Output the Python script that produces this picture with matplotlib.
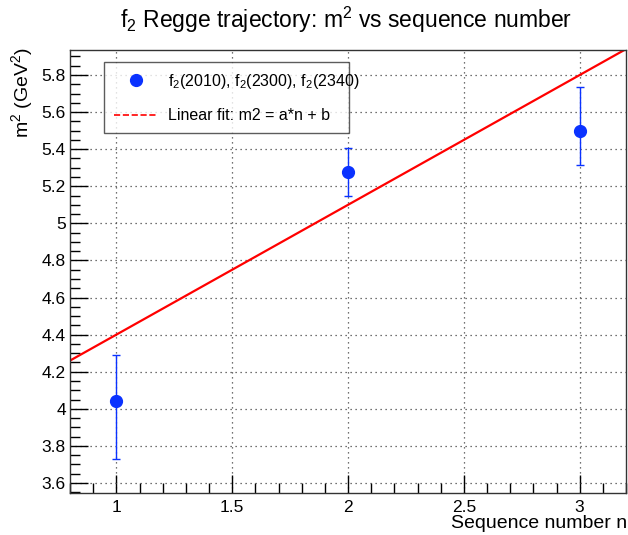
import numpy as np
import matplotlib.pyplot as plt
from matplotlib.lines import Line2D
from matplotlib.ticker import MultipleLocator, FormatStrFormatter

plt.rcParams['font.family'] = ['Liberation Sans', 'DejaVu Sans']
plt.rcParams['mathtext.fontset'] = 'custom'
plt.rcParams['mathtext.rm'] = 'Liberation Sans'
plt.rcParams['mathtext.it'] = 'Liberation Sans'
plt.rcParams['mathtext.default'] = 'regular'

# data: f2 states, m^2 in GeV^2 with asymmetric errors
n = [1, 2, 3]
m2 = [4.044, 5.276, 5.499]
err_lo = [0.315, 0.129, 0.186]
err_hi = [0.245, 0.129, 0.237]

# linear fit parameters m2 = a*n + b
a = 0.70
b = 3.70

xlim = (0.8, 3.2)
ylim = (3.546, 5.935)

fig = plt.figure(figsize=(6.28, 5.35), dpi=100)
ax = fig.add_axes([70 / 628, 1 - 493 / 535, 556 / 628, 443 / 535])

blue = '#0a32ff'
ax.errorbar(n, m2, yerr=[err_lo, err_hi], fmt='o', color=blue, ms=8.5,
            elinewidth=1, capsize=3, capthick=1, zorder=3)
fx = np.array(xlim)
ax.plot(fx, a * fx + b, color='red', lw=1.6, zorder=2)

ax.set_xlim(*xlim)
ax.set_ylim(*ylim)
ax.xaxis.set_major_locator(MultipleLocator(0.5))
ax.xaxis.set_minor_locator(MultipleLocator(0.1))
ax.yaxis.set_major_locator(MultipleLocator(0.2))
ax.yaxis.set_minor_locator(MultipleLocator(0.05))
ax.xaxis.set_major_formatter(FormatStrFormatter('%g'))
ax.yaxis.set_major_formatter(FormatStrFormatter('%g'))
ax.tick_params(which='major', direction='in', length=13, width=1, labelsize=12.5, pad=5)
ax.tick_params(which='minor', direction='in', length=7, width=1)
ax.tick_params(axis='y', which='major', pad=3)
ax.grid(which='major', color='#444444', linestyle=(0, (1, 3)), linewidth=0.9)
for s in ax.spines.values():
    s.set_linewidth(1)
    s.set_color('#333333')

fig.text(346 / 628, 1 - 20 / 535, r'f$_2$ Regge trajectory: m$^2$ vs sequence number',
         ha='center', va='center', fontsize=16.5)
fig.text(22 / 628, 1 - 47 / 535, r'm$^2$ (GeV$^2$)', rotation=90,
         ha='center', va='top', fontsize=14)
fig.text(627 / 628, 1 - 524 / 535, 'Sequence number n', ha='right', va='center', fontsize=14)

handles = [Line2D([], [], ls='none', marker='o', color=blue, ms=8.5),
           Line2D([], [], ls='--', color='red', lw=1.2)]
labels = [r'f$_2$(2010), f$_2$(2300), f$_2$(2340)', 'Linear fit: m2 = a*n + b']
leg = ax.legend(handles, labels, loc='upper left',
                bbox_to_anchor=(104 / 628, 1 - 133 / 535, 245 / 628, 71 / 535),
                bbox_transform=fig.transFigure, mode='expand', borderaxespad=0,
                fontsize=11.5, frameon=True, fancybox=False, shadow=False,
                borderpad=0.6, labelspacing=1.1, handlelength=2.8, handletextpad=0.6)
leg.get_frame().set_edgecolor('#333333')
leg.get_frame().set_linewidth(1)

fig.savefig('out.png', dpi=100)
